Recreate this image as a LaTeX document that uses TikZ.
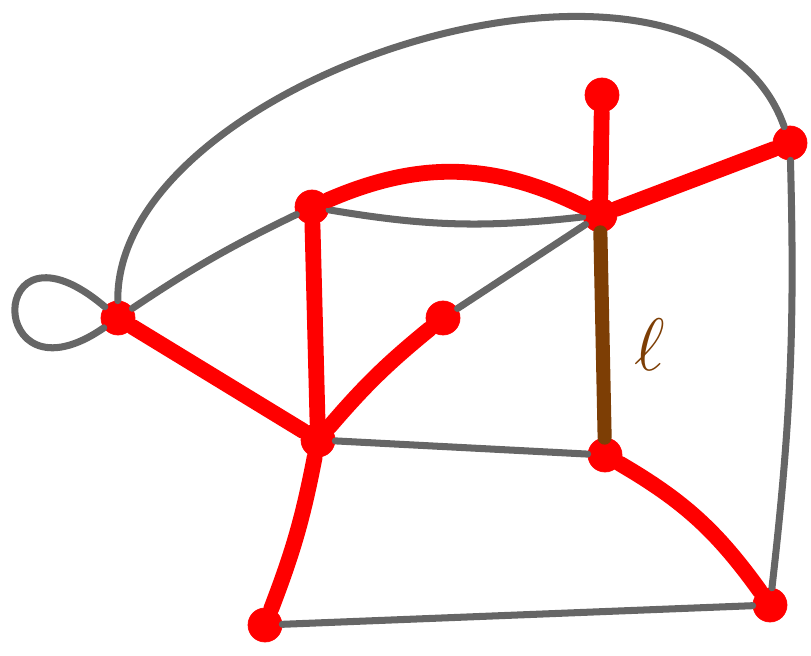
\documentclass[tikz,border=0pt]{standalone}
\begin{document}
\begin{tikzpicture}[
        blob/.style={circle, fill=red, draw=red, minimum size=0.68cm, inner sep=0pt},
        grayedge/.style={draw=black!60, line width=4pt, line cap=round},
        rededge/.style={draw=red, line width=9pt, line cap=round},
        brownedge/.style={draw={rgb,255:red,125;green,62;blue,5}, line width=8pt, line cap=round},
        every node/.style={font=\Huge}
        ]
      \useasboundingbox (0,0) rectangle (16.22,13.1);
      \node[blob] (v1) at (2.36,6.74) {};
      \node[blob] (v2) at (6.24,8.96) {};
      \node[blob] (v3) at (6.36,4.30) {};
      \node[blob] (v4) at (8.86,6.74) {};
      \node[blob] (v5) at (12.0,8.80) {};
      \node[blob] (v6) at (12.04,11.2) {};
      \node[blob] (v7) at (15.8,10.24) {};
      \node[blob] (v8) at (12.1,4.0) {};
      \node[blob] (v9) at (5.3,0.6) {};
      \node[blob] (v10) at (15.4,1.0) {};
      \node[text={rgb,255:red,125;green,62;blue,5}, scale=1.7] (ell) at (13.0,6.2) {\(\ell\)};
      \draw[grayedge] (v1) .. controls (-0.3,9.0) and (-0.3,4.9) .. (v1);
      \draw[grayedge] (v1) .. controls (2.3,11.6) and (14,15.3) .. (v7);
      \draw[grayedge] (v1) to[bend left=4] (v2);
      \draw[grayedge] (v2) to[bend right=8] (v5);
      \draw[grayedge] (v4) -- (v5);
      \draw[grayedge] (v3) -- (v8);
      \draw[grayedge] (v9) -- (v10);
      \draw[grayedge] (v7) to[bend left=4] (v10);
      \draw[rededge] (v1) -- (v3);
      \draw[rededge] (v2) -- (v3);
      \draw[rededge] (v3) to[bend left=5] (v4);
      \draw[rededge] (v3) to[bend left=5] (v9);
      \draw[rededge] (v2) to[bend left=25] (v5);
      \draw[rededge] (v5) -- (v6);
      \draw[rededge] (v5) -- (v7);
      \draw[rededge] (v8) to[bend left=12] (v10);
      \draw[brownedge] (v5) -- (v8);
    \end{tikzpicture}
\end{document}
